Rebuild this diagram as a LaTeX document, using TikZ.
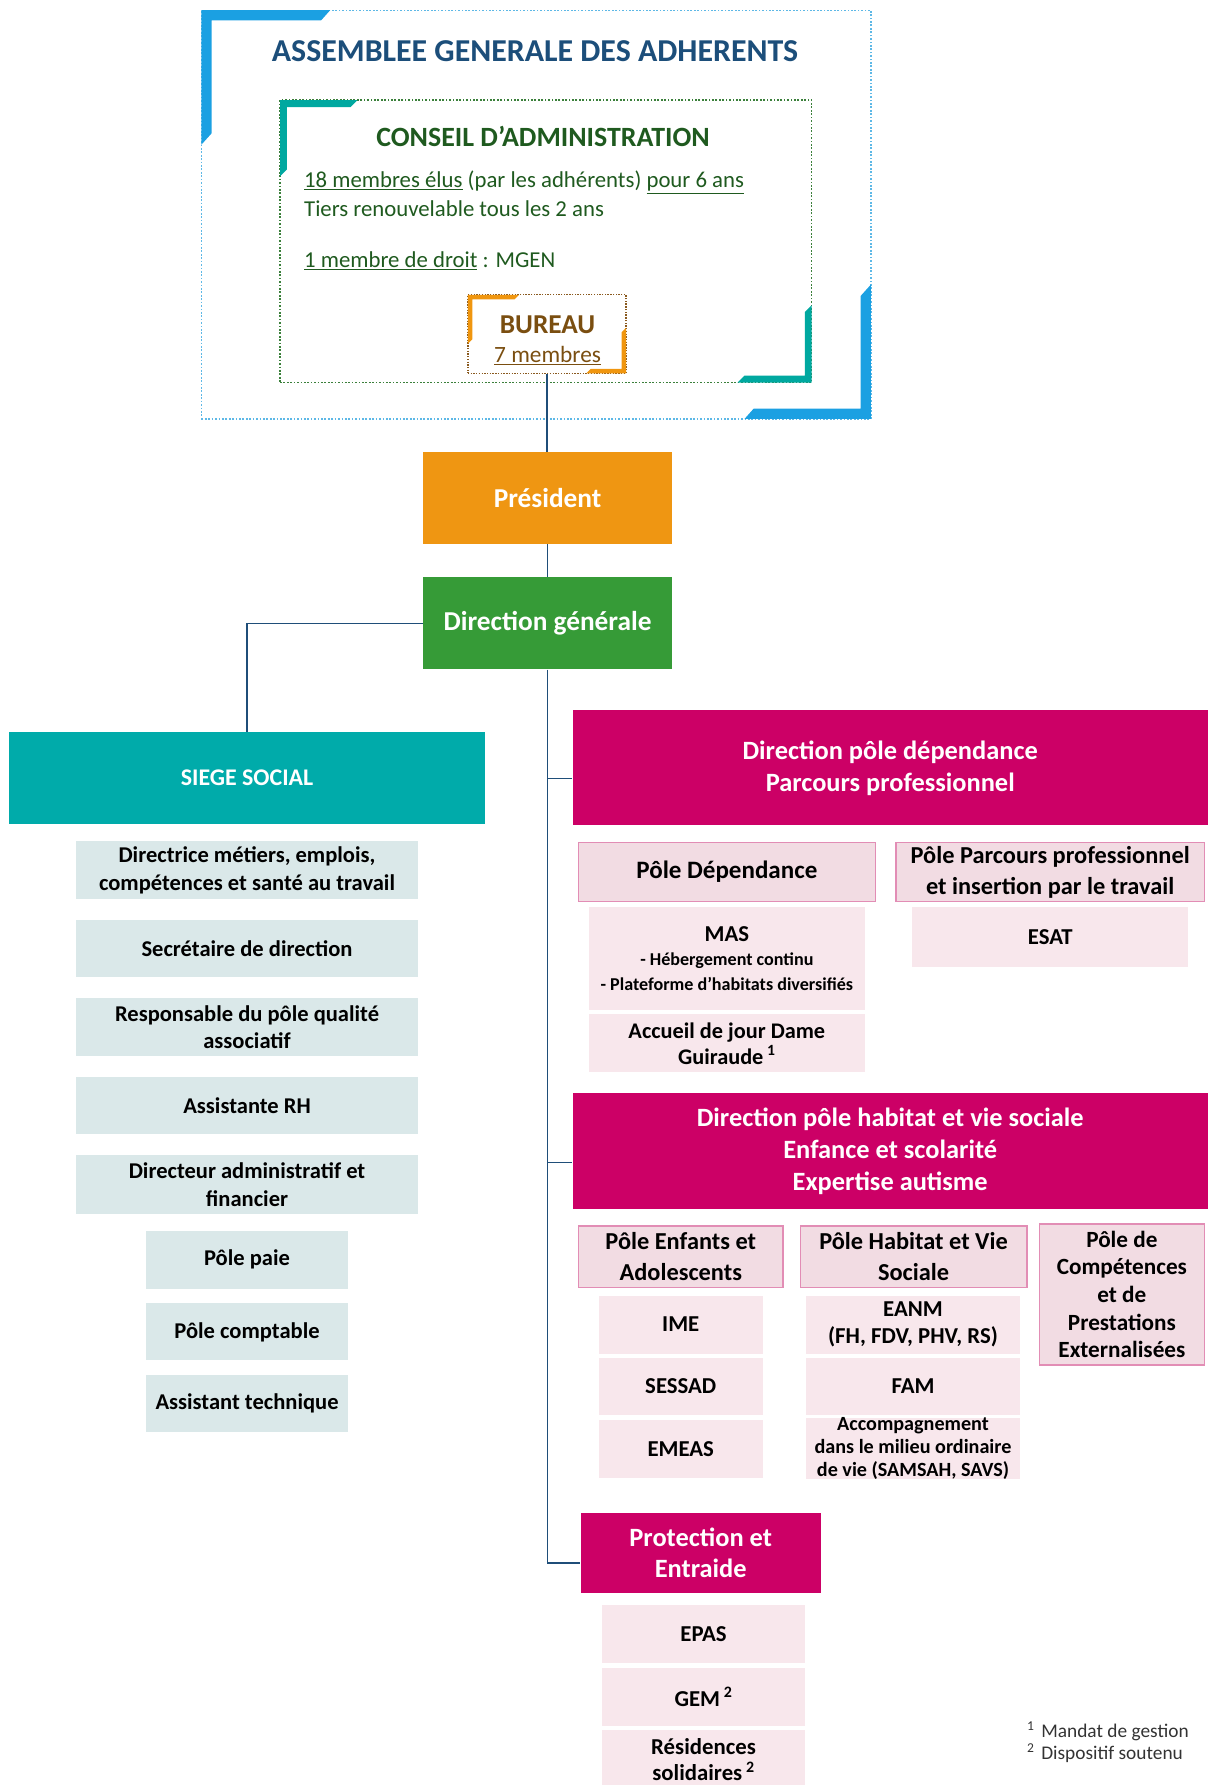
\documentclass[tikz,border=0pt]{standalone}
\usepackage{fontspec}
\setmainfont{Carlito}
\usepackage{xcolor}
\usepackage{tikz}
\usetikzlibrary{positioning}

\definecolor{agblue}{HTML}{1BA0E2}
\definecolor{agdot}{HTML}{5DB8E6}
\definecolor{agtitle}{HTML}{1C4E7A}
\definecolor{cateal}{HTML}{00A8A0}
\definecolor{cadot}{HTML}{3B803B}
\definecolor{catext}{HTML}{1F5A1F}
\definecolor{burorange}{HTML}{F0960F}
\definecolor{burdot}{HTML}{8A5A1F}
\definecolor{burtext}{HTML}{7A4E10}
\definecolor{presorange}{HTML}{EF9612}
\definecolor{dggreen}{HTML}{369B37}
\definecolor{siegeteal}{HTML}{00ABAA}
\definecolor{sidegray}{HTML}{DAE8E9}
\definecolor{dirmag}{HTML}{CC0066}
\definecolor{polefill}{HTML}{F2DCE3}
\definecolor{poledraw}{HTML}{E28DB5}
\definecolor{unitfill}{HTML}{F8E7EC}
\definecolor{linkblue}{HTML}{1F4E79}
\definecolor{notegray}{HTML}{333333}

\tikzset{
  conn/.style={draw=linkblue, line width=1.2pt},
  topbox/.style={text=white, font=\bfseries\fontsize{24}{28}\selectfont, align=center, inner sep=0pt},
  sidebox/.style={fill=sidegray, font=\bfseries\fontsize{19.8}{24}\selectfont, align=center, inner sep=0pt},
  headbox/.style={fill=dirmag, text=white, font=\bfseries\fontsize{23.2}{28}\selectfont, align=center, inner sep=0pt},
  polebox/.style={fill=polefill, draw=poledraw, line width=1.3pt, font=\bfseries\fontsize{21.4}{27}\selectfont, align=center, inner sep=0pt},
  unitbox/.style={fill=unitfill, font=\bfseries\fontsize{20}{24}\selectfont, align=center, inner sep=0pt},
  catxt/.style={anchor=west, text=catext, font=\fontsize{20}{24}\selectfont, inner sep=0pt},
}

\begin{document}
\begin{tikzpicture}[x=1pt, y=-1pt]
  \useasboundingbox (0,0) rectangle (1061,1568);

  % assemblee generale
  \node[draw=agdot, line width=1.3pt, dash pattern=on 1.5pt off 1.5pt,
        minimum width=588pt, minimum height=359pt, inner sep=0pt] (ag) at (471,188.5) {};
  \fill[agblue] (177,9) -- (290,9) -- (282,18) -- (186,18) -- (186,117) -- (177,127) -- cycle;
  \fill[agblue] (765,250) -- (765,368) -- (654,368) -- (662,359) -- (756,359) -- (756,260) -- cycle;
  \node[text=agtitle, font=\bfseries\fontsize{28}{32}\selectfont] (agtitle) at (470,45) {ASSEMBLEE GENERALE DES ADHERENTS};

  % conseil d'administration
  \node[draw=cadot, line width=1.2pt, dash pattern=on 1.5pt off 1.5pt,
        minimum width=467pt, minimum height=248pt, inner sep=0pt] (ca) at (479.5,212) {};
  \fill[cateal] (246,88) -- (314,88) -- (308,94) -- (252,94) -- (252,149) -- (246,155) -- cycle;
  \fill[cateal] (713,268) -- (713,336) -- (648,336) -- (654,330) -- (707,330) -- (707,274) -- cycle;
  \node[text=catext, font=\bfseries\fontsize{24.5}{28}\selectfont] (catitle) at (477,120) {CONSEIL D’ADMINISTRATION};
  \node[catxt] (elus) at (267,160) {\underline{18 membres élus} (par les adhérents) \underline{pour 6 ans}};
  \node[catxt] (tiers) at (267,183) {Tiers renouvelable tous les 2 ans};
  \node[catxt] (droit) at (267,229) {\underline{1 membre de droit} : MGEN};

  % bureau
  \node[draw=burdot, line width=1.1pt, dash pattern=on 1.2pt off 1.2pt,
        minimum width=139pt, minimum height=69pt, inner sep=0pt] (bureau) at (480.5,293.5) {};
  \fill[burorange] (411,259) -- (456,259) -- (452,263) -- (415,263) -- (415,298) -- (411,302) -- cycle;
  \fill[burorange] (550,288) -- (550,328) -- (515,328) -- (519,324) -- (546,324) -- (546,292) -- cycle;
  \node[text=burtext, font=\bfseries\fontsize{24}{28}\selectfont] (burtitle) at (481,285) {BUREAU};
  \node[text=burtext, font=\fontsize{20.5}{24}\selectfont] (burnb) at (481,312) {\underline{7 membres}};

  % president, direction generale
  \node[topbox, fill=presorange, minimum width=218pt, minimum height=81pt] (pres) at (481,437.5) {Président};
  \node[topbox, fill=dggreen, minimum width=218pt, minimum height=81pt] (dg) at (481,547.5) {Direction générale};

  % siege social
  \node[fill=siegeteal, text=white, font=\bfseries\fontsize{21}{24}\selectfont,
        minimum width=418pt, minimum height=81pt, inner sep=0pt] (siege) at (217,683.5) {SIEGE SOCIAL};
  \node[sidebox, minimum width=300pt, minimum height=51pt] (dmetiers) at (217,764.5) {Directrice métiers, emplois,\\compétences et santé au travail};
  \node[sidebox, minimum width=300pt, minimum height=50pt] (secr) at (217,833) {Secrétaire de direction};
  \node[sidebox, minimum width=300pt, minimum height=51pt] (qualite) at (217,902.5) {Responsable du pôle qualité\\associatif};
  \node[sidebox, minimum width=300pt, minimum height=50pt] (rh) at (217,971) {Assistante RH};
  \node[sidebox, minimum width=300pt, minimum height=51pt] (daf) at (217,1040.5) {Directeur administratif et\\financier};
  \node[sidebox, minimum width=178pt, minimum height=51pt] (paie) at (217,1106.5) {Pôle paie};
  \node[sidebox, minimum width=178pt, minimum height=50pt] (compta) at (217,1170) {Pôle comptable};
  \node[sidebox, minimum width=178pt, minimum height=50pt] (tech) at (217,1233) {Assistant technique};

  % pole dependance
  \node[headbox, minimum width=558pt, minimum height=101pt] (dirdep) at (782,674.5) {Direction pôle dépendance\\Parcours professionnel};
  \node[polebox, minimum width=261pt, minimum height=52pt] (pdep) at (638.5,766) {\fontsize{22}{27}\selectfont Pôle Dépendance};
  \node[polebox, minimum width=271pt, minimum height=52pt] (pparc) at (922.5,766) {Pôle Parcours professionnel\\et insertion par le travail};
  \node[unitbox, minimum width=243pt, minimum height=90pt, font=\bfseries\fontsize{20}{21.5}\selectfont] (mas) at (638.5,842)
       {MAS\\{\fontsize{15.9}{18}\selectfont - Hébergement continu}\\{\fontsize{15.9}{18}\selectfont - Plateforme d’habitats diversifiés}};
  \node[unitbox, minimum width=243pt, minimum height=51pt, font=\bfseries\fontsize{19.6}{23}\selectfont] (dame) at (638.5,916.5) {Accueil de jour Dame\\Guiraude\,\textsuperscript{1}};
  \node[unitbox, minimum width=243pt, minimum height=52pt] (esat) at (922.5,823) {ESAT};

  % pole habitat
  \node[headbox, minimum width=558pt, minimum height=102pt] (dirhab) at (782,1011) {Direction pôle habitat et vie sociale\\Enfance et scolarité\\Expertise autisme};
  \node[polebox, minimum width=180pt, minimum height=54pt] (penf) at (598,1104) {Pôle Enfants et\\Adolescents};
  \node[polebox, minimum width=199pt, minimum height=54pt] (phab) at (802.5,1104) {Pôle Habitat et Vie\\Sociale};
  \node[polebox, minimum width=145pt, minimum height=124pt, font=\bfseries\fontsize{20.4}{24.3}\selectfont] (pcomp) at (985.5,1137) {Pôle de\\Compétences\\et de\\Prestations\\Externalisées};
  \node[unitbox, minimum width=144pt, minimum height=51pt] (ime) at (598,1163.5) {IME};
  \node[unitbox, minimum width=144pt, minimum height=50pt] (sessad) at (598,1218) {SESSAD};
  \node[unitbox, minimum width=144pt, minimum height=51pt] (emeas) at (598,1272.5) {EMEAS};
  \node[unitbox, minimum width=188pt, minimum height=51pt] (eanm) at (802,1163.5) {EANM\\(FH, FDV, PHV, RS)};
  \node[unitbox, minimum width=188pt, minimum height=50pt] (fam) at (802,1218) {FAM};
  \node[unitbox, minimum width=188pt, minimum height=51pt, font=\bfseries\fontsize{17.7}{20}\selectfont] (accomp) at (802,1272.5) {Accompagnement\\dans le milieu ordinaire\\de vie (SAMSAH, SAVS)};

  % protection
  \node[headbox, minimum width=211pt, minimum height=70pt] (prot) at (615.5,1364) {Protection et\\Entraide};
  \node[unitbox, minimum width=178pt, minimum height=51pt] (epas) at (618,1435.5) {EPAS};
  \node[unitbox, minimum width=178pt, minimum height=51pt] (gem) at (618,1490.5) {GEM\,\textsuperscript{2}};
  \node[unitbox, minimum width=178pt, minimum height=52pt, font=\bfseries\fontsize{20}{23}\selectfont] (resid) at (618,1546) {Résidences\\solidaires\,\textsuperscript{2}};

  % notes
  \node[anchor=west, text=notegray, font=\fontsize{17}{19}\selectfont, inner sep=0pt] (note1) at (902,1521) {\textsuperscript{1}\hspace{6pt}Mandat de gestion};
  \node[anchor=west, text=notegray, font=\fontsize{17}{19}\selectfont, inner sep=0pt] (note2) at (902,1540) {\textsuperscript{2}\hspace{6pt}Dispositif soutenu};

  % liens
  \coordinate (brdep) at ([yshift=-9.5pt]dirdep.west);
  \coordinate (brhab) at ([yshift=-10pt]dirhab.west);
  \coordinate (brprot) at ([yshift=-9pt]prot.west);
  \draw[conn] (bureau.south) -- (bureau.south |- pres.north);
  \draw[conn] (pres.south) -- (dg.north);
  \draw[conn] (dg.west) -| (siege.north);
  \draw[conn] (dg.south) |- (brprot);
  \draw[conn] (dg.south |- brdep) -- (brdep);
  \draw[conn] (dg.south |- brhab) -- (brhab);

\end{tikzpicture}
\end{document}
